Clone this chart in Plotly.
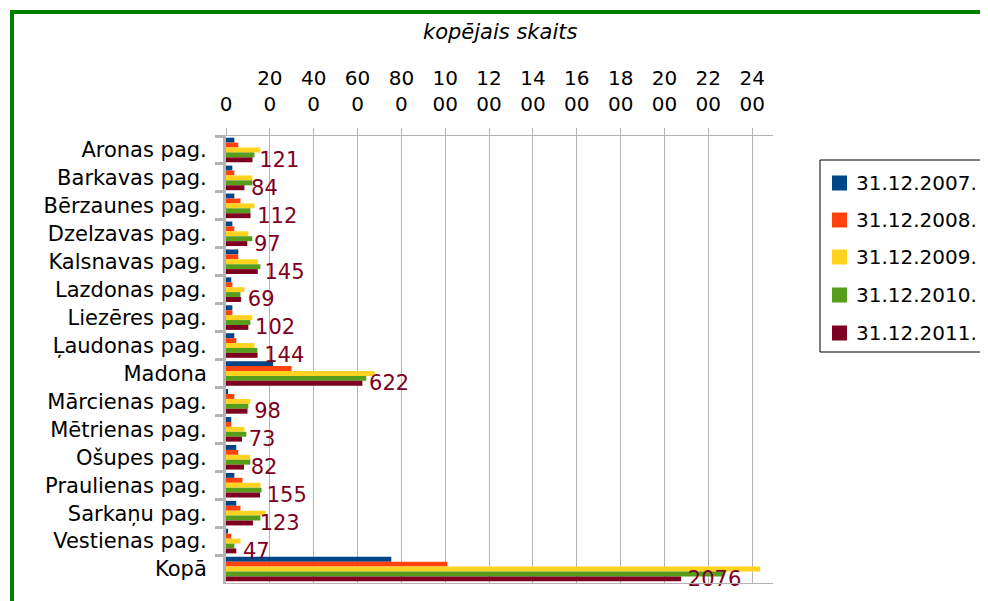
import plotly.graph_objects as go

categories = ["Aronas pag.", "Barkavas pag.", "Bērzaunes pag.", "Dzelzavas pag.", "Kalsnavas pag.",
              "Lazdonas pag.", "Liezēres pag.", "Ļaudonas pag.", "Madona", "Mārcienas pag.",
              "Mētrienas pag.", "Ošupes pag.", "Praulienas pag.", "Sarkaņu pag.", "Vestienas pag.", "Kopā"]

series_names = ["31.12.2007.", "31.12.2008.", "31.12.2009.", "31.12.2010.", "31.12.2011."]

v2007 = [38, 29, 38, 29, 56, 24, 29, 38, 215, 9, 24, 47, 38, 47, 9, 754]
v2008 = [56, 38, 66, 38, 56, 29, 29, 47, 299, 38, 24, 56, 75, 66, 24, 1010]
v2009 = [157, 120, 130, 102, 145, 84, 120, 130, 678, 111, 84, 111, 157, 180, 66, 2437]
v2010 = [130, 120, 111, 120, 157, 66, 111, 143, 640, 102, 93, 111, 162, 157, 38, 2272]
v2011 = [121, 84, 112, 97, 145, 69, 102, 144, 622, 98, 73, 82, 155, 123, 47, 2076]

colors = ["#004586", "#ff420e", "#ffd320", "#579d1c", "#7e0021"]

tick_vals = list(range(0, 2401, 200))
tick_text = ["<br>0", "20<br>0", "40<br>0", "60<br>0", "80<br>0", "10<br>00", "12<br>00",
             "14<br>00", "16<br>00", "18<br>00", "20<br>00", "22<br>00", "24<br>00"]

all_values = [v2007, v2008, v2009, v2010, v2011]

FONT = "DejaVu Sans"

fig = go.Figure()
for i, (name, vals) in enumerate(zip(series_names, all_values)):
    kw = {}
    if i == 4:
        kw = dict(text=[" " + str(v) for v in vals], textposition="outside",
                  textfont=dict(color="#7e0021", size=21, family=FONT),
                  cliponaxis=False, constraintext="none")
    fig.add_trace(go.Bar(y=categories, x=vals, name=name, orientation="h",
                         marker=dict(color=colors[i], line=dict(width=0)), **kw))

# page has an 8px body margin; plot area in page coords: x 226..773, y 136..583
OFF = 8
PL, PR, PT, PB = 226, 773, 136, 583
W, H = 988 - OFF, 601 - OFF
pw, ph = PR - PL, PB - PT
L, T = PL - OFF, PT - OFF
R, B = W - L - pw, H - T - ph

def px_x(x):
    return (x - PL) / pw

def px_y(y):
    return 1 - (y - PT) / ph

fig.update_layout(
    width=W, height=H,
    margin=dict(l=L, r=R, t=T, b=B, autoexpand=False),
    barmode="group", bargap=0.12, bargroupgap=0,
    paper_bgcolor="white", plot_bgcolor="white",
    font=dict(family=FONT, size=21, color="black"),
    xaxis=dict(side="top", range=[0, 2495], tickvals=tick_vals, ticktext=tick_text,
               showgrid=True, gridcolor="#b3b3b3", gridwidth=1, zeroline=False,
               ticks="outside", ticklen=7, tickcolor="#b3b3b3",
               showline=True, linecolor="#b3b3b3", mirror=True,
               ticklabelstandoff=9, tickfont=dict(size=20)),
    yaxis=dict(autorange="reversed", tickson="boundaries", ticks="outside", ticklen=8,
               tickwidth=3, tickcolor="#b3b3b3", showgrid=False,
               showline=True, linecolor="#b3b3b3", linewidth=3, mirror=False,
               ticklabelstandoff=12, tickfont=dict(size=21)),
    showlegend=False,
)

fig.add_annotation(text="<i>kopējais skaits</i>", xref="paper", yref="paper",
                   x=0.5, y=px_y(32), xanchor="center", yanchor="middle",
                   showarrow=False, font=dict(size=21))

# legend box (drawn manually to match spacing)
fig.add_shape(type="rect", xref="paper", yref="paper",
              x0=px_x(820), x1=px_x(985), y0=px_y(352), y1=px_y(160),
              line=dict(color="black", width=1), fillcolor="white")
legend_y = [183, 220, 257, 295, 333]
for name, col, ly in zip(series_names, colors, legend_y):
    fig.add_shape(type="rect", xref="paper", yref="paper",
                  x0=px_x(832), x1=px_x(847), y0=px_y(ly + 7.5), y1=px_y(ly - 7.5),
                  line=dict(width=0), fillcolor=col)
    fig.add_annotation(text=name, xref="paper", yref="paper",
                       x=px_x(854), y=px_y(ly), xanchor="left", yanchor="middle",
                       showarrow=False, font=dict(size=20))

fig.add_shape(type="rect", xref="paper", yref="paper",
              x0=px_x(12), x1=px_x(1010), y0=px_y(640), y1=px_y(12),
              line=dict(color="#008000", width=4), fillcolor="rgba(0,0,0,0)", layer="above")

fig.write_html("out.html")
